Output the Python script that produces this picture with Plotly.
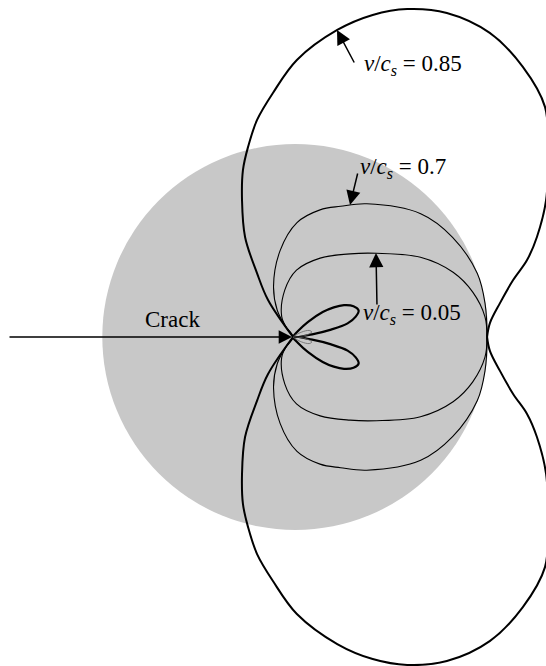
import numpy as np
import plotly.graph_objects as go

# Polar curves measured from the crack tip (angle in degrees, radius normalised
# so that the shaded reference circle has radius about 1). Upper half only; each
# curve is symmetric about the crack line.
theta_085 = [0, 4.1, 9.3, 14.5, 18.2, 22.3, 28.4, 36.3, 42.4, 49.6, 57.1, 64.6, 70.8,
             76.1, 81.8, 89.2, 94.7, 99.4, 103.3, 106.7, 110.4, 115.6, 119.4, 124.0, 126]
r_085 = [1.0, 1.018, 1.081, 1.172, 1.270, 1.359, 1.483, 1.630, 1.759, 1.828, 1.867, 1.849, 1.790,
         1.710, 1.599, 1.428, 1.262, 1.134, 1.007, 0.898, 0.754, 0.572, 0.378, 0.230, 0.0]

theta_07 = [0, 10, 19, 32, 44, 61, 70, 78, 88, 98.5, 111, 120.5, 125, 128]
r_07 = [1.00, 1.005, 1.005, 0.97, 0.915, 0.785, 0.717, 0.67, 0.59, 0.45, 0.28, 0.16, 0.07, 0.0]

theta_005 = [0, 6, 14, 22, 32, 45, 55.5, 71, 87, 100, 119, 126, 132]
r_005 = [1.00, 0.995, 0.955, 0.89, 0.775, 0.61, 0.52, 0.43, 0.345, 0.245, 0.12, 0.05, 0.0]

# Two-lobed pattern near the tip
theta_lobe = [4, 8, 11, 14, 18, 22, 27, 32, 36, 40, 45, 50, 54]
r_lobe = [0.0, 0.10, 0.20, 0.29, 0.34, 0.365, 0.35, 0.31, 0.26, 0.20, 0.11, 0.04, 0.0]

# Small inner lobe
theta_small = [2, 8, 15, 22, 30, 38]
r_small = [0.0, 0.07, 0.10, 0.09, 0.05, 0.0]

shade_radius = 0.995
shade_center = 0.012
speed_labels = ["0.85", "0.7", "0.05"]

PX = 194.0           # pixels per unit radius
TIP_PX = (293, 337)  # crack tip position on the page
W, H = 546, 666


def half(theta, r, sign=1):
    t = np.radians(np.asarray(theta, float)) * sign
    rr = np.asarray(r, float)
    return rr * np.cos(t), rr * np.sin(t)


def closed_curve(theta, r):
    """Lower half (mirrored) followed by the upper half."""
    t = np.radians(np.asarray(theta, float))
    rr = np.asarray(r, float)
    t_full = np.concatenate([-t[::-1], t[1:]])
    r_full = np.concatenate([rr[::-1], rr[1:]])
    return r_full * np.cos(t_full), r_full * np.sin(t_full)


def px2d(px, py):
    return (px - TIP_PX[0]) / PX, (TIP_PX[1] - py) / PX


def line(x, y, width, color="black"):
    return go.Scatter(x=x, y=y, mode="lines", hoverinfo="skip",
                      line=dict(color=color, width=width, shape="spline", smoothing=1.0))


fig = go.Figure()

fig.add_shape(type="circle", xref="x", yref="y",
              x0=shade_center - shade_radius, x1=shade_center + shade_radius,
              y0=-shade_radius, y1=shade_radius,
              fillcolor="#c8c8c8", line=dict(width=0), layer="below")

# v/c_s = 0.85: the two halves meet at a corner on the crack line
for sign in (1, -1):
    x, y = half(theta_085, r_085, sign)
    fig.add_trace(line(x, y, 2.0))

for th, rr in [(theta_07, r_07), (theta_005, r_005)]:
    x, y = closed_curve(th, rr)
    fig.add_trace(line(x, y, 1.1))

for sign in (1, -1):
    x, y = half(theta_lobe, r_lobe, sign)
    fig.add_trace(line(x, y, 2.2))
    x, y = half(theta_small, r_small, sign)
    fig.add_trace(line(x, y, 0.8, "#666666"))

font = dict(family="Liberation Serif, DejaVu Serif, serif", size=23, color="black")


def speed_text(v):
    return "<i>v</i>/<i>c</i><sub><i>s</i></sub> = " + v


annotations = []

for v, (lx, ly) in zip(speed_labels, [(362, 65), (358, 168), (361, 314)]):
    x, y = px2d(lx, ly)
    annotations.append(dict(x=x, y=y, xref="x", yref="y", text=speed_text(v),
                            showarrow=False, xanchor="left", yanchor="middle", font=font))

for (tx, ty), (hx, hy) in [((355, 64), (337, 30)), ((358, 172), (350, 205)), ((377, 306), (376, 253))]:
    x, y = px2d(hx, hy)
    ax, ay = px2d(tx, ty)
    annotations.append(dict(x=x, y=y, ax=ax, ay=ay, xref="x", yref="y", axref="x", ayref="y",
                            text="", showarrow=True, arrowhead=2, arrowsize=1.9, arrowwidth=1.5,
                            arrowcolor="black"))

# crack
x, y = px2d(292, 337)
ax, ay = px2d(8, 337)
annotations.append(dict(x=x, y=y, ax=ax, ay=ay, xref="x", yref="y", axref="x", ayref="y",
                        text="", showarrow=True, arrowhead=2, arrowsize=1.9, arrowwidth=1.4,
                        arrowcolor="black"))
x, y = px2d(172, 319)
annotations.append(dict(x=x, y=y, xref="x", yref="y", text="Crack", showarrow=False, font=font))

x0, _ = px2d(0, 0)
x1, _ = px2d(W, 0)
_, y1 = px2d(0, 0)
_, y0 = px2d(0, H)

fig.update_layout(
    width=W, height=H, margin=dict(l=0, r=0, t=0, b=0),
    paper_bgcolor="white", plot_bgcolor="white", showlegend=False,
    xaxis=dict(range=[x0, x1], visible=False, fixedrange=True),
    yaxis=dict(range=[y0, y1], visible=False, fixedrange=True),
    annotations=annotations,
)

fig.write_html("out.html", config={"displayModeBar": False})
